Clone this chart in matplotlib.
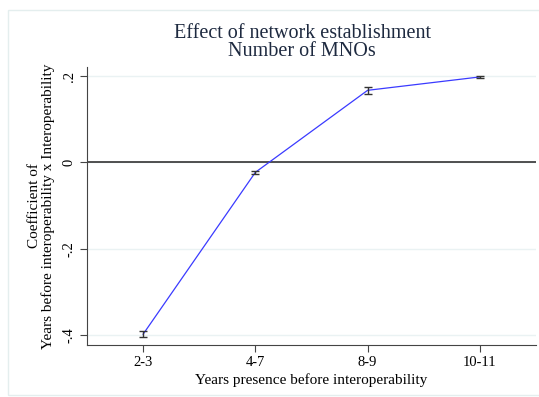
import matplotlib
matplotlib.use("Agg")
import matplotlib.pyplot as plt
from matplotlib.patches import Rectangle

# coefficients by years of presence before interoperability
groups = ["2-3", "4-7", "8-9", "10-11"]
coef = [-0.398, -0.023, 0.167, 0.198]
err = [0.007, 0.003, 0.008, 0.003]
yticks = [-0.4, -0.2, 0, 0.2]
ylabels = ["-.4", "-.2", "0", ".2"]

plt.rcParams["font.family"] = ["Liberation Serif", "DejaVu Serif"]

fig = plt.figure(figsize=(5.39, 3.97), dpi=100)
fig.patches.append(Rectangle((8 / 539, 2 / 397), 540 / 539, 385 / 397,
                             transform=fig.transFigure, fill=False,
                             edgecolor="#e4eeee", linewidth=1))

ax = fig.add_axes([87 / 539, 1 - 345 / 397, (536 - 87) / 539, (345 - 67) / 397])
x = list(range(len(groups)))

for t in yticks:
    ax.axhline(t, color="#eaf2f3", linewidth=1, zorder=0)
ax.axhline(0, color="#333333", linewidth=1.2, zorder=1)

ax.plot(x, coef, color="#3a3aff", linewidth=0.9, zorder=2)
ax.errorbar(x, coef, yerr=err, fmt="none", ecolor="#333333",
            elinewidth=1, capsize=3, capthick=1, zorder=3)

ax.set_xlim(-0.5, 3.5)
ax.set_ylim(-0.423, 0.221)
ax.set_xticks(x)
ax.set_xticklabels(groups, fontsize=10.5)
ax.set_yticks(yticks)
ax.set_yticklabels(ylabels, fontsize=10.5, rotation=90, va="center")

for s in ["top", "right"]:
    ax.spines[s].set_visible(False)
for s in ["left", "bottom"]:
    ax.spines[s].set_color("#444444")
ax.tick_params(direction="out", length=5, color="#444444", pad=3)

ax.set_xlabel("Years presence before interoperability", fontsize=11, labelpad=3)
ax.set_ylabel("Coefficient of\nYears before interoperability x Interoperability",
              fontsize=11, labelpad=6, linespacing=0.95)

fig.text(302 / 539, 1 - 34 / 397, "Effect of network establishment",
         ha="center", va="center", fontsize=14.5, color="#1e2a40")
fig.text(302 / 539, 1 - 52 / 397, "Number of MNOs",
         ha="center", va="center", fontsize=14.5, color="#1e2a40")

fig.savefig("out.png", dpi=100)
